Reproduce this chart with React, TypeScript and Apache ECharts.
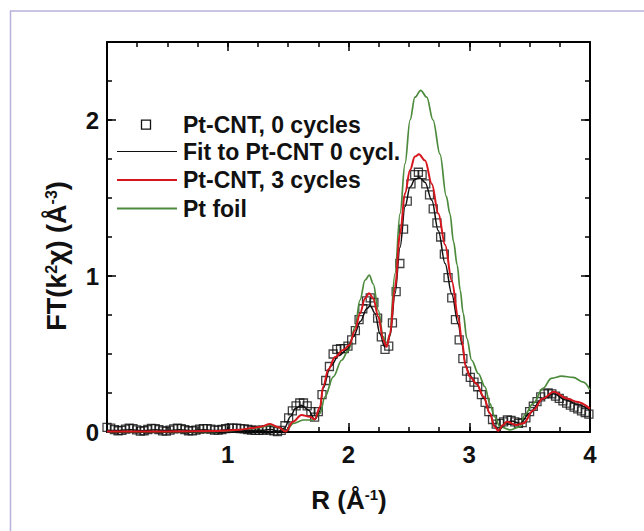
import React, { useEffect, useRef } from "react";
import * as echarts from "echarts";

// ---------- data ----------
const xLabelTicks = [1, 2, 3, 4];
const yLabelTicks = [0, 1, 2];
const legendLabels = ["Pt-CNT, 0 cycles", "Fit to Pt-CNT 0 cycl.", "Pt-CNT, 3 cycles", "Pt foil"];

// measured data grid step in R (Å)
const dataStepR = 0.0307;
// Pt-CNT, 0 cycles (open squares), one value per grid point starting at R = 0
const cnt0Y = [
  0.03, 0.025, 0.015, 0.008, 0.01, 0.018, 0.024, 0.022, 0.014, 0.006,
  0.008, 0.016, 0.023, 0.022, 0.015, 0.007, 0.006, 0.012, 0.02, 0.024,
  0.022, 0.015, 0.008, 0.007, 0.012, 0.018, 0.022, 0.022, 0.018, 0.012,
  0.012, 0.016, 0.022, 0.025, 0.025, 0.024, 0.022, 0.02, 0.016, 0.012,
  0.01, 0.01, 0.012, 0.014, 0.012, 0.007, 0.003, 0.01, 0.04, 0.09,
  0.135, 0.168, 0.186, 0.186, 0.168, 0.13, 0.095, 0.13, 0.24, 0.33,
  0.42, 0.5, 0.53, 0.535, 0.535, 0.55, 0.59, 0.65, 0.72, 0.79,
  0.84, 0.86, 0.83, 0.73, 0.61, 0.53, 0.55, 0.7, 0.9, 1.08,
  1.3, 1.48, 1.59, 1.65, 1.665, 1.65, 1.59, 1.52, 1.43, 1.34,
  1.25, 1.14, 0.99, 0.86, 0.72, 0.59, 0.47, 0.39, 0.35, 0.32,
  0.29, 0.24, 0.19, 0.13, 0.08, 0.05, 0.055, 0.065, 0.077, 0.075,
  0.065, 0.055, 0.06, 0.09, 0.13, 0.165, 0.195, 0.225, 0.245, 0.25,
  0.245, 0.23, 0.215, 0.2, 0.185, 0.172, 0.16, 0.148, 0.136, 0.125,
  0.115,
];

// Fit to Pt-CNT 0 cycl. [R, FT]
const fit0 = [
  [0, 0.012], [0.1, 0.01], [0.2, 0.015], [0.3, 0.008], [0.4, 0.014], [0.5, 0.008],
  [0.6, 0.014], [0.7, 0.008], [0.8, 0.014], [0.9, 0.01], [1.0, 0.014], [1.1, 0.013],
  [1.2, 0.01], [1.3, 0.012], [1.36, 0.016], [1.42, 0.005], [1.47, 0.025], [1.52, 0.1],
  [1.56, 0.15], [1.61, 0.172], [1.67, 0.14], [1.72, 0.08], [1.76, 0.13], [1.79, 0.28],
  [1.85, 0.42], [1.92, 0.49], [1.99, 0.53], [2.04, 0.61], [2.1, 0.71], [2.15, 0.79],
  [2.18, 0.81], [2.22, 0.76], [2.26, 0.63], [2.3, 0.546], [2.32, 0.56], [2.345, 0.62],
  [2.385, 0.885], [2.427, 1.185], [2.468, 1.445], [2.51, 1.57], [2.55, 1.62], [2.59, 1.63],
  [2.634, 1.6], [2.69, 1.485], [2.744, 1.29], [2.8, 1.08], [2.855, 0.885], [2.91, 0.69],
  [2.94, 0.56], [2.97, 0.43], [3.0, 0.365], [3.06, 0.31], [3.12, 0.22], [3.17, 0.12],
  [3.21, 0.04], [3.245, 0.01], [3.3, 0.06], [3.35, 0.07], [3.42, 0.055], [3.5, 0.12],
  [3.6, 0.21], [3.7, 0.245], [3.8, 0.205], [3.9, 0.175], [4.0, 0.14],
];

// Pt-CNT, 3 cycles [R, FT]
const cnt3 = [
  [0, 0.004], [0.5, 0.004], [0.9, 0.006], [1.0, 0.01], [1.1, 0.015], [1.2, 0.025],
  [1.27, 0.034], [1.35, 0.051], [1.42, 0.03], [1.48, 0.003], [1.54, 0.066], [1.61, 0.109],
  [1.68, 0.098], [1.72, 0.081], [1.764, 0.16], [1.79, 0.29], [1.833, 0.4], [1.888, 0.48],
  [1.957, 0.525], [2.007, 0.557], [2.054, 0.653], [2.095, 0.76], [2.137, 0.856], [2.17, 0.89],
  [2.205, 0.856], [2.247, 0.738], [2.288, 0.59], [2.316, 0.546], [2.344, 0.63], [2.385, 0.93],
  [2.427, 1.27], [2.468, 1.53], [2.51, 1.68], [2.55, 1.766], [2.584, 1.78], [2.634, 1.74],
  [2.69, 1.59], [2.744, 1.4], [2.8, 1.2], [2.855, 0.97], [2.91, 0.73], [2.94, 0.58],
  [2.97, 0.42], [3.006, 0.354], [3.06, 0.31], [3.12, 0.226], [3.17, 0.12], [3.21, 0.034],
  [3.24, 0.008], [3.28, 0.045], [3.31, 0.066], [3.39, 0.045], [3.45, 0.056], [3.53, 0.14],
  [3.61, 0.215], [3.7, 0.258], [3.81, 0.215], [3.89, 0.194], [4.0, 0.15],
];

// Pt foil [R, FT]
const foil = [
  [0, 0.002], [0.9, 0.003], [1.0, 0.008], [1.1, 0.013], [1.2, 0.022], [1.27, 0.03],
  [1.35, 0.045], [1.42, 0.03], [1.48, 0.005], [1.543, 0.055], [1.626, 0.077], [1.71, 0.077],
  [1.764, 0.12], [1.805, 0.226], [1.874, 0.354], [1.943, 0.46], [2.0, 0.525], [2.054, 0.674],
  [2.095, 0.845], [2.137, 0.973], [2.172, 1.005], [2.205, 0.95], [2.247, 0.78], [2.288, 0.61],
  [2.315, 0.55], [2.34, 0.62], [2.385, 1.016], [2.427, 1.4], [2.468, 1.72], [2.51, 2.0],
  [2.55, 2.146], [2.598, 2.19], [2.648, 2.146], [2.7, 2.0], [2.758, 1.78], [2.81, 1.51],
  [2.84, 1.4], [2.87, 1.22], [2.9, 1.07], [2.925, 0.91], [2.95, 0.76], [2.98, 0.6],
  [3.02, 0.46], [3.075, 0.375], [3.13, 0.29], [3.17, 0.184], [3.21, 0.098], [3.255, 0.034],
  [3.34, 0.013], [3.42, 0.034], [3.46, 0.11], [3.53, 0.184], [3.61, 0.28], [3.68, 0.344],
  [3.765, 0.358], [3.86, 0.35], [3.945, 0.32], [4.0, 0.27],
];

const FONT = "'Liberation Sans', Arial, Helvetica, sans-serif";
const BLACK = "#111111";
const RED = "#d7161e";
const GREEN = "#4c8a3c";

export default function App() {
  const ref = useRef<HTMLDivElement>(null);

  useEffect(() => {
    if (!ref.current) return;
    const chart = echarts.init(ref.current, undefined, { renderer: "svg" });

    const cnt0 = cnt0Y.map((y, i) => [+(i * dataStepR).toFixed(4), y]);

    const baseX = (position: string, interval: number, len: number, labels: boolean, line: boolean) => ({
      type: "value",
      gridIndex: 0,
      position,
      min: 0,
      max: 4,
      interval,
      axisLine: { show: line, onZero: false, lineStyle: { color: "#000", width: 2 } },
      axisTick: { show: true, inside: true, length: len, lineStyle: { color: "#000", width: 1.5 } },
      axisLabel: labels
        ? {
            show: true,
            margin: 10,
            color: BLACK,
            fontFamily: FONT,
            fontWeight: "bold",
            fontSize: 24,
            formatter: (v: number) => (xLabelTicks.includes(v) ? String(v) : ""),
          }
        : { show: false },
      splitLine: { show: false },
    });
    const baseY = (position: string, interval: number, len: number, labels: boolean, line: boolean) => ({
      type: "value",
      gridIndex: 0,
      position,
      min: 0,
      max: 2.5,
      interval,
      axisLine: { show: line, onZero: false, lineStyle: { color: "#000", width: 2 } },
      axisTick: { show: true, inside: true, length: len, lineStyle: { color: "#000", width: 1.5 } },
      axisLabel: labels
        ? {
            show: true,
            margin: 8,
            color: BLACK,
            fontFamily: FONT,
            fontWeight: "bold",
            fontSize: 24,
            formatter: (v: number) => (yLabelTicks.includes(v) ? String(v) : ""),
          }
        : { show: false },
      splitLine: { show: false },
    });

    const legendRows = [124.6, 151.5, 180, 208.5];
    const legendGraphics: any[] = [
      {
        type: "rect",
        shape: { x: 141.5, y: legendRows[0] - 4.5, width: 9, height: 9 },
        style: { fill: "transparent", stroke: BLACK, lineWidth: 1.3 },
      },
      {
        type: "line",
        shape: { x1: 117, y1: legendRows[1], x2: 177, y2: legendRows[1] },
        style: { stroke: BLACK, lineWidth: 1.2 },
      },
      {
        type: "line",
        shape: { x1: 117, y1: legendRows[2], x2: 177, y2: legendRows[2] },
        style: { stroke: RED, lineWidth: 2 },
      },
      {
        type: "line",
        shape: { x1: 117, y1: legendRows[3], x2: 177, y2: legendRows[3] },
        style: { stroke: GREEN, lineWidth: 1.8 },
      },
      ...legendLabels.map((t, i) => ({
        type: "text",
        x: 183,
        y: legendRows[i],
        style: {
          text: t,
          fill: BLACK,
          font: `bold 23px ${FONT}`,
          verticalAlign: "middle",
          align: "left",
        },
      })),
    ];

    chart.setOption({
      animation: false,
      backgroundColor: "#ffffff",
      grid: { left: 107, top: 42, width: 483, height: 390, containLabel: false },
      xAxis: [
        baseX("bottom", 1, 9, true, true),
        baseX("bottom", 0.25, 5, false, false),
        baseX("top", 1, 9, false, true),
        baseX("top", 0.25, 5, false, false),
      ],
      yAxis: [
        baseY("left", 1, 9, true, true),
        baseY("left", 0.25, 5, false, false),
        baseY("right", 1, 9, false, true),
        baseY("right", 0.25, 5, false, false),
      ],
      graphic: [
        {
          type: "rect",
          shape: { x: 10.5, y: 11, width: 800, height: 700 },
          style: { fill: "transparent", stroke: "#b6b2dc", lineWidth: 1.5 },
          silent: true,
          z: -10,
        },
        {
          type: "text",
          x: 349,
          y: 500,
          style: {
            text: "R (Å{sup|-1})",
            fill: BLACK,
            font: `bold 26px ${FONT}`,
            align: "center",
            verticalAlign: "middle",
            rich: {
              sup: { fontSize: 15, fontWeight: "bold", fontFamily: FONT, verticalAlign: "top", lineHeight: 15, fill: BLACK },
            },
          },
        },
        {
          type: "text",
          x: 57,
          y: 256,
          rotation: Math.PI / 2,
          style: {
            text: "FT(k{sup|2}χ) (Å{sup|-3})",
            fill: BLACK,
            font: `bold 27px ${FONT}`,
            align: "center",
            verticalAlign: "middle",
            rich: {
              sup: { fontSize: 16, fontWeight: "bold", fontFamily: FONT, verticalAlign: "top", lineHeight: 16, fill: BLACK },
            },
          },
        },
        ...legendGraphics,
      ],
      series: [
        {
          name: legendLabels[0],
          type: "scatter",
          xAxisIndex: 0,
          yAxisIndex: 0,
          data: cnt0,
          symbol: "rect",
          symbolSize: 8,
          itemStyle: { color: "transparent", borderColor: BLACK, borderWidth: 1.3 },
          z: 2,
        },
        {
          name: legendLabels[3],
          type: "line",
          xAxisIndex: 0,
          yAxisIndex: 0,
          data: foil,
          symbol: "none",
          smooth: 0.35,
          smoothMonotone: "x",
          lineStyle: { color: GREEN, width: 1.7 },
          z: 3,
        },
        {
          name: legendLabels[1],
          type: "line",
          xAxisIndex: 0,
          yAxisIndex: 0,
          data: fit0,
          symbol: "none",
          smooth: 0.35,
          smoothMonotone: "x",
          lineStyle: { color: BLACK, width: 1.5 },
          z: 4,
        },
        {
          name: legendLabels[2],
          type: "line",
          xAxisIndex: 0,
          yAxisIndex: 0,
          data: cnt3,
          symbol: "none",
          smooth: 0.35,
          smoothMonotone: "x",
          lineStyle: { color: RED, width: 2 },
          z: 5,
        },
      ],
    });

    return () => chart.dispose();
  }, []);

  return (
    <div
      ref={ref}
      style={{ position: "absolute", left: 0, top: 0, width: 644, height: 531, background: "#fff" }}
    />
  );
}
